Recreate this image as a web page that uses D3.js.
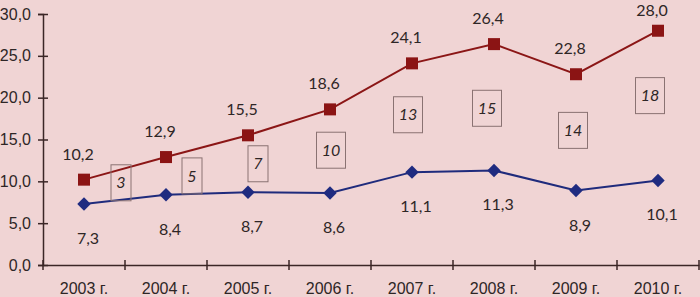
<!DOCTYPE html>
<html>
<head>
<meta charset="utf-8">
<script src="https://cdn.jsdelivr.net/npm/d3@7"></script>
<style>
  html, body { margin: 0; padding: 0; background: #f0d4d4; }
  svg { display: block; font-family: Lato, "Open Sans", sans-serif; }
</style>
</head>
<body>
<div id="chart"></div>
<script>
// data
const years = ["2003 г.", "2004 г.", "2005 г.", "2006 г.", "2007 г.", "2008 г.", "2009 г.", "2010 г."];
const redValues = [10.2, 12.9, 15.5, 18.6, 24.1, 26.4, 22.8, 28.0];
const blueValues = [7.3, 8.4, 8.7, 8.6, 11.1, 11.3, 8.9, 10.1];
const boxValues = [3, 5, 7, 10, 13, 15, 14, 18];
const yTicks = [0, 5, 10, 15, 20, 25, 30];

// small nudges for the boxed numbers (px), as placed in the original
const boxNudgeX = [37, 26, 10, 1, -4, -7, -3, -8];
const boxNudgeY = [-9, 0, 0, -1, -3, 1, -2, -10];

const W = 700, H = 297;
const margin = {top: 14, right: 1, bottom: 32, left: 43};
const width = W - margin.left - margin.right,
    height = H - margin.top - margin.bottom;

const svg = d3.select("#chart")
  .append("svg")
  .attr("width", W)
  .attr("height", H);

svg.append("rect").attr("width", W).attr("height", H).attr("fill", "#f0d4d4");

const g = svg.append("g")
  .attr("transform", `translate(${margin.left}, ${margin.top})`);

const x = d3.scaleBand().domain(years).range([0, width]);
const y = d3.scaleLinear().domain([0, 30]).range([height, 0]);
const cx = d => x(d) + x.bandwidth() / 2;

const fmt = v => d3.format(".1f")(v).replace(".", ",");
const axisColor = "#3b2626";
const textColor = "#2e2626";
const fs = "16px";

// Y axis
const yAxis = g.append("g")
  .call(d3.axisLeft(y).tickValues(yTicks).tickSize(5).tickFormat(fmt));
yAxis.select(".domain").attr("stroke", axisColor).attr("stroke-width", 1.5);
yAxis.selectAll(".tick line")
  .attr("x1", -5).attr("x2", 5)
  .attr("stroke", axisColor).attr("stroke-width", 1.5);
yAxis.selectAll(".tick text")
  .attr("x", -12)
  .attr("fill", textColor)
  .style("font-size", fs);

// X axis
const xAxis = g.append("g")
  .attr("transform", `translate(0,${height})`)
  .call(d3.axisBottom(x).tickSize(0));
xAxis.select(".domain").attr("stroke", axisColor).attr("stroke-width", 1.5);
xAxis.selectAll(".tick text")
  .attr("y", 18)
  .attr("fill", textColor)
  .style("font-size", fs);
// boundary ticks between categories
g.append("g").selectAll("line")
  .data(years.concat(["end"]))
  .join("line")
    .attr("x1", (d, i) => i * x.step())
    .attr("x2", (d, i) => i * x.step())
    .attr("y1", height - 5)
    .attr("y2", height + 5)
    .attr("stroke", axisColor)
    .attr("stroke-width", 1.5);

const line = vals => d3.line()
  .x((d, i) => cx(years[i]))
  .y(d => y(d))(vals);

// red series
g.append("path")
  .attr("d", line(redValues))
  .attr("fill", "none")
  .attr("stroke", "#8b1616")
  .attr("stroke-width", 2);

// blue series
g.append("path")
  .attr("d", line(blueValues))
  .attr("fill", "none")
  .attr("stroke", "#1f2b7c")
  .attr("stroke-width", 2);

g.selectAll(".sq")
  .data(redValues)
  .join("rect")
    .attr("class", "sq")
    .attr("x", (d, i) => cx(years[i]) - 6)
    .attr("y", d => y(d) - 6)
    .attr("width", 12)
    .attr("height", 12)
    .attr("fill", "#8b1414");

g.selectAll(".dia")
  .data(blueValues)
  .join("path")
    .attr("class", "dia")
    .attr("d", d3.symbol().type(d3.symbolDiamond2).size(115))
    .attr("transform", (d, i) => `translate(${cx(years[i])},${y(d)})`)
    .attr("fill", "#1f2b80");

// value labels (kept inside the top edge)
g.selectAll(".rl")
  .data(redValues)
  .join("text")
    .attr("class", "rl")
    .attr("x", (d, i) => cx(years[i]) - 6)
    .attr("y", d => Math.max(-margin.top + 16, y(d) - 20))
    .attr("text-anchor", "middle")
    .attr("fill", textColor)
    .style("font-size", fs)
    .text(fmt);

g.selectAll(".bl")
  .data(blueValues)
  .join("text")
    .attr("class", "bl")
    .attr("x", (d, i) => cx(years[i]) + 4)
    .attr("y", d => y(d) + 40)
    .attr("text-anchor", "middle")
    .attr("fill", textColor)
    .style("font-size", fs)
    .text(fmt);

// boxed numbers between the two lines
const boxes = g.selectAll(".box")
  .data(boxValues)
  .join("g")
    .attr("class", "box")
    .attr("transform", (d, i) => {
      const bx = cx(years[i]) + boxNudgeX[i];
      const by = (y(redValues[i]) + y(blueValues[i])) / 2 + boxNudgeY[i];
      return `translate(${bx},${by})`;
    });

boxes.append("rect")
  .attr("x", d => d >= 10 ? -14.5 : -10)
  .attr("y", -18)
  .attr("width", d => d >= 10 ? 29 : 20)
  .attr("height", 36)
  .attr("fill", "none")
  .attr("stroke", "#8a7272")
  .attr("stroke-width", 1);

boxes.append("text")
  .attr("text-anchor", "middle")
  .attr("dy", "0.35em")
  .attr("fill", textColor)
  .style("font-size", fs)
  .style("font-style", "italic")
  .text(d => d);
</script>
</body>
</html>
